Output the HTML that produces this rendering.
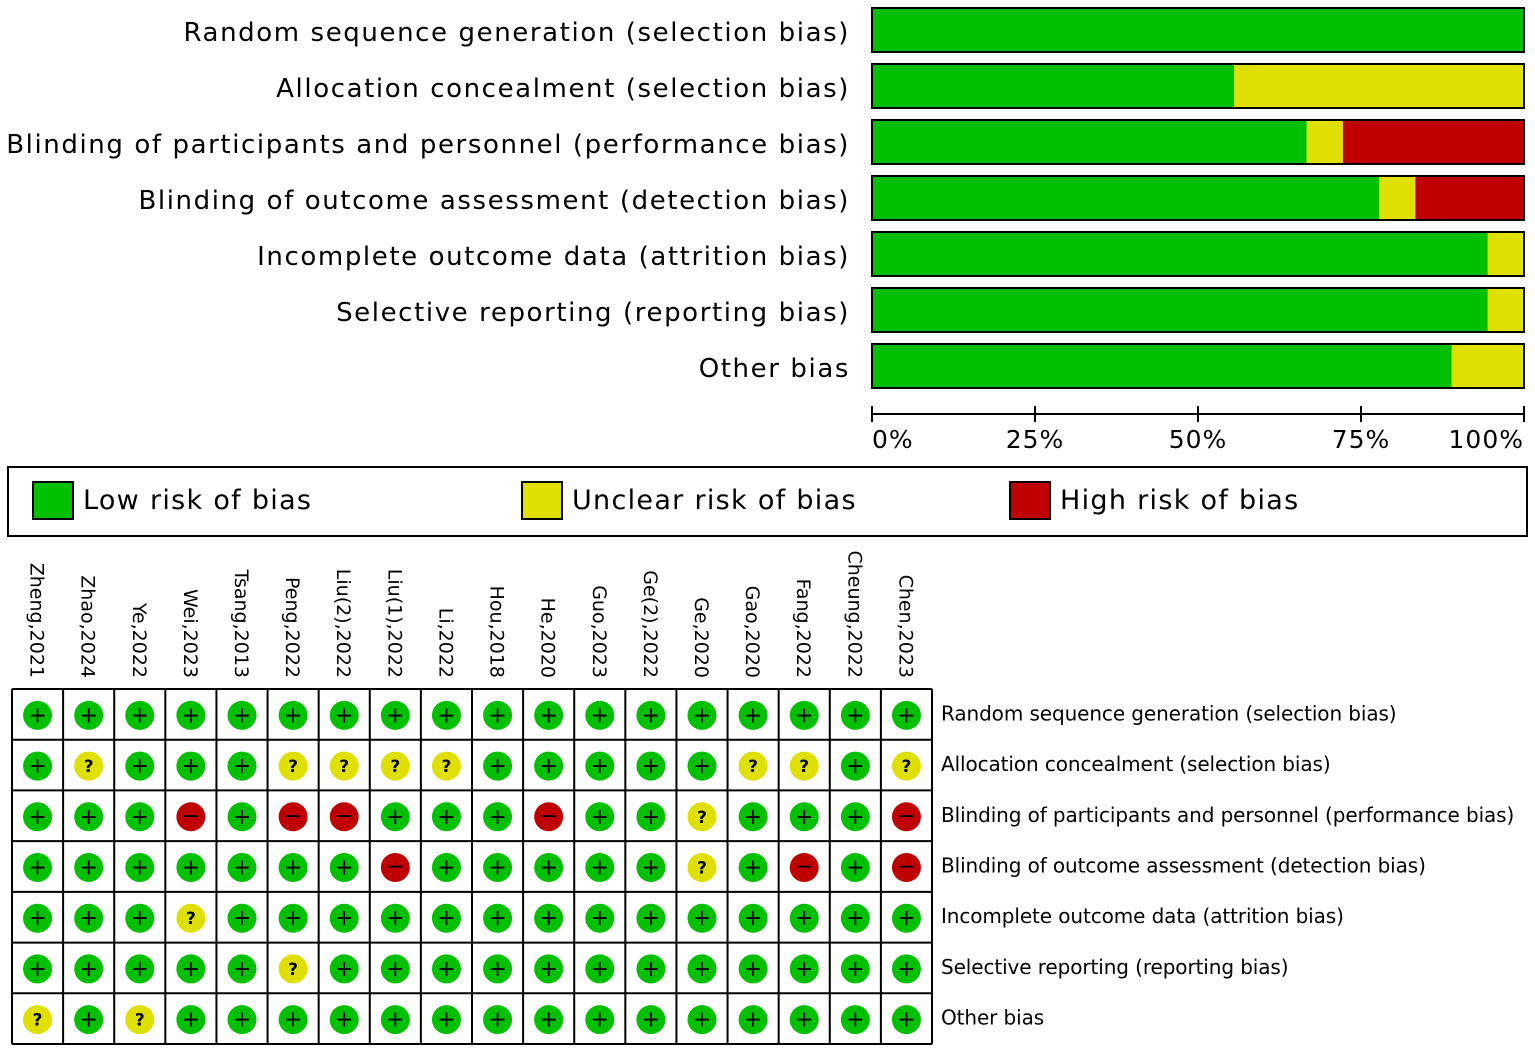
<!DOCTYPE html>
<html><head><meta charset="utf-8"><style>
body{margin:0;background:#fff}
svg{display:block;font-family:"DejaVu Sans","Liberation Sans",sans-serif}
</style></head><body>
<svg id="c" width="1535" height="1051"></svg>
<script>
const domains=["Random sequence generation (selection bias)","Allocation concealment (selection bias)","Blinding of participants and personnel (performance bias)","Blinding of outcome assessment (detection bias)","Incomplete outcome data (attrition bias)","Selective reporting (reporting bias)","Other bias"];
const studies=["Zheng,2021","Zhao,2024","Ye,2022","Wei,2023","Tsang,2013","Peng,2022","Liu(2),2022","Liu(1),2022","Li,2022","Hou,2018","He,2020","Guo,2023","Ge(2),2022","Ge,2020","Gao,2020","Fang,2022","Cheung,2022","Chen,2023"];
const judgements=[
"++++++++++++++++++",
"+?+++????+++++??+?",
"+++-+--+++-++?+++-",
"+++++++-+++++?+-+-",
"+++?++++++++++++++",
"+++++?++++++++++++",
"?+?+++++++++++++++"];
const ticks=["0%","25%","50%","75%","100%"];
const legend=["Low risk of bias","Unclear risk of bias","High risk of bias"];
const col={"+":"#00c000","?":"#e0e000","-":"#c00000"};
const S=document.getElementById('c'),NS="http://www.w3.org/2000/svg";
function el(t,a,p){const e=document.createElementNS(NS,t);for(const k in a)e.setAttribute(k,a[k]);(p||S).appendChild(e);return e;}
const x0=872,x1=1524,xs=v=>x0+(x1-x0)*v;
domains.forEach((d,i)=>{
 const y=8+i*56,j=judgements[i];
 const t=el('text',{x:850,y:y+33,'text-anchor':'end','font-size':26,'letter-spacing':1.6,fill:'#000'});t.textContent=d;
 
 
 let acc=0;["+","?","-"].forEach(k=>{
  const f=j.split('').filter(c=>c===k).length/j.length;
  if(f>0){const r=el('rect',{x:xs(acc),y:y,width:xs(acc+f)-xs(acc),height:44,fill:col[k]});
  
  }
  acc+=f;});
 el('rect',{x:x0,y:y,width:x1-x0,height:44,fill:'none',stroke:'#000','stroke-width':2});
});
el('line',{x1:x0,x2:x1,y1:414,y2:414,stroke:'#000','stroke-width':2});
ticks.forEach((t,i)=>{const x=xs(i/4);el('line',{x1:x,x2:x,y1:406,y2:422,stroke:'#000','stroke-width':2});
 const tx=el('text',{x:i==0?x0:(i==4?x1:x),y:448,'text-anchor':i==0?'start':(i==4?'end':'middle'),'font-size':25,'letter-spacing':1});tx.textContent=t;
 
 });
const lb=el('rect',{x:8,y:467,width:1519,height:69,fill:'none',stroke:'#000','stroke-width':2});


[[33,"+"],[522,"?"],[1010,"-"]].forEach((p,i)=>{
 el('rect',{x:p[0],y:482,width:40,height:37,fill:col[p[1]],stroke:'#000','stroke-width':2});
 const t=el('text',{x:p[0]+50,y:509,'font-size':27,'letter-spacing':1.3});t.textContent=legend[i];
 
 });
const gx=12,gy=689,cw=(932-12)/18,rh=(1044-689)/7;
studies.forEach((s,i)=>{const cx=gx+cw*(i+0.5);
 const t=el('text',{transform:`translate(${cx-7},678) rotate(90)`,'text-anchor':'end','font-size':19});t.textContent=s;
 
 });
domains.forEach((d,r)=>{const cy=gy+rh*(r+0.5);
 const t=el('text',{x:941,y:cy+6,'font-size':20,'letter-spacing':-0.1});t.textContent=d;
 
 
 judgements[r].split('').forEach((k,i)=>{const cx=gx+cw*(i+0.5);
  const c=el('circle',{cx:cx,cy:cy+1,r:14.5,fill:col[k]});
  
  
  const s=el('text',{x:cx,y:cy+(k=="+"?8:7),'text-anchor':'middle','font-size':k=="?"?17:22,'font-weight':k=="?"?'bold':'normal'});
  s.textContent=k=="-"?"−":k;});
});
for(let i=0;i<=18;i++)el('line',{x1:gx+cw*i,x2:gx+cw*i,y1:gy,y2:1044,stroke:'#000','stroke-width':2});
for(let r=0;r<=7;r++)el('line',{x1:gx,x2:932,y1:gy+rh*r,y2:gy+rh*r,stroke:'#000','stroke-width':2});
</script>
</body></html>
